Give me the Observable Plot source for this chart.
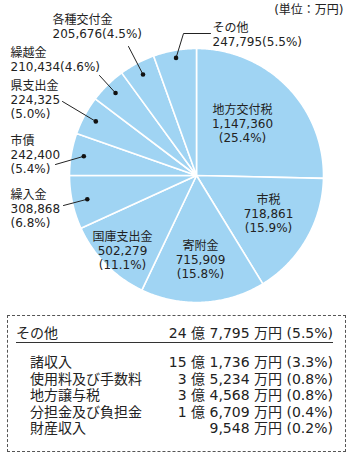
<!DOCTYPE html>
<html>
<head>
<meta charset="utf-8">
<script src="https://cdn.jsdelivr.net/npm/d3@7"></script>
<script src="https://cdn.jsdelivr.net/npm/@observablehq/plot@0.6"></script>
<style>
  html, body { margin: 0; padding: 0; background: #fff; }
  body { width: 352px; height: 456px; overflow: hidden; font-family: "DejaVu Sans", "Noto Sans CJK JP", sans-serif; color: #222; }
  #chart svg { display: block; }
  #box { box-sizing: border-box; margin: 5px 0 0 7px; width: 339px; height: 137px; border: 1px dashed #555; padding: 8px 12px 0 8px; font-size: 14px; }
  .row { display: flex; justify-content: space-between; white-space: nowrap; }
  .head { line-height: 18px; border-bottom: 1px solid #333; margin-bottom: 11px; }
  .sub { line-height: 16.5px; padding-left: 14px; }
</style>
</head>
<body>
<div id="chart"></div>
<div id="box"></div>
<script>
// ---- data ----
const names  = ["地方交付税", "市税", "寄附金", "国庫支出金", "繰入金", "市債", "県支出金", "繰越金", "各種交付金", "その他"];
const values = [1147360, 718861, 715909, 502279, 308868, 242400, 224325, 210434, 205676, 247795];
const shares = [25.4, 15.9, 15.8, 11.1, 6.8, 5.4, 5.0, 4.6, 4.5, 5.5];
const unitLabel = "(単位：万円)";

const otherTitle = "その他";
const otherTotal = "24 億 7,795 万円 (5.5%)";
const otherItems  = ["諸収入", "使用料及び手数料", "地方譲与税", "分担金及び負担金", "財産収入"];
const otherOku    = [15, 3, 3, 1, 0];
const otherMan    = [1736, 5234, 4568, 6709, 9548];
const otherShares = [3.3, 0.8, 0.8, 0.4, 0.2];

// ---- label layout (pixel positions, converted into data units below) ----
const CX = 196, CY = 175, R = 127;
const toX = px => (px - CX) / R, toY = py => (CY - py) / R;
const layout = [
  {mode: "in",  x: 242, y: 123, lines: 3},
  {mode: "in",  x: 268, y: 213, lines: 3},
  {mode: "in",  x: 200, y: 259, lines: 3},
  {mode: "in",  x: 122, y: 250, lines: 3},
  {mode: "out", x: 10,  y: 208, lines: 3, rf: 0.88, leader: [[63, 205]]},
  {mode: "out", x: 10,  y: 154, lines: 3, rf: 0.90, leader: [[55, 164]]},
  {mode: "out", x: 10,  y: 99,  lines: 3, rf: 0.90, leader: [[62, 101]]},
  {mode: "out", x: 10,  y: 59,  lines: 2, rf: 0.91, leader: [[99, 75]]},
  {mode: "out", x: 52,  y: 26,  lines: 2, rf: 0.90, leader: [[128, 46]]},
  {mode: "out", x: 212, y: 34,  lines: 2, rf: 0.94, leader: [[210, 33], [183, 33]]}
];

// ---- geometry from d3.pie ----
const arcs = d3.pie().sort(null).value(d => d)(values);
const piePts = [];
arcs.forEach((a, i) => {
  piePts.push({name: names[i], x: 0, y: 0});
  const n = Math.max(2, Math.ceil((a.endAngle - a.startAngle) / 0.01));
  for (let k = 0; k <= n; k++) {
    const t = a.startAngle + (a.endAngle - a.startAngle) * k / n;
    piePts.push({name: names[i], x: Math.sin(t), y: Math.cos(t)});
  }
});

const fmt = d3.format(",");
const labels = [], dots = [], leaders = [];
arcs.forEach((a, i) => {
  const L = layout[i];
  const num = fmt(values[i]), pct = `(${shares[i].toFixed(1)}%)`;
  const text = L.lines === 3 ? `${names[i]}\n${num}\n${pct}` : `${names[i]}\n${num}${pct}`;
  labels.push({text, x: toX(L.x), y: toY(L.y), anchor: L.mode === "in" ? "middle" : "start"});
  if (L.mode === "out") {
    const mid = (a.startAngle + a.endAngle) / 2;
    const dx = L.rf * Math.sin(mid), dy = L.rf * Math.cos(mid);
    dots.push({x: dx, y: dy});
    L.leader.forEach(p => leaders.push({name: names[i], x: toX(p[0]), y: toY(p[1])}));
    leaders.push({name: names[i], x: dx, y: dy});
  }
});

const font = `"DejaVu Sans", "Noto Sans CJK JP", sans-serif`;
const chart = Plot.plot({
  width: 352, height: 310, margin: 0,
  x: {domain: [-1, 1], range: [CX - R, CX + R], axis: null},
  y: {domain: [-1, 1], range: [CY + R, CY - R], axis: null},
  style: {fontFamily: font, background: "transparent", color: "#222"},
  marks: [
    Plot.line(piePts, {x: "x", y: "y", z: "name", fill: "#a0d4f3", stroke: "white", strokeWidth: 1.6, curve: "linear-closed", strokeLinejoin: "round"}),
    Plot.line(leaders, {x: "x", y: "y", z: "name", stroke: "#222", strokeWidth: 1}),
    Plot.dot(dots, {x: "x", y: "y", r: 2.3, fill: "#111", stroke: "none"}),
    Plot.text(labels.filter(d => d.anchor === "middle"), {x: "x", y: "y", text: "text", textAnchor: "middle", lineAnchor: "middle", lineHeight: 1.15, fontSize: 12, fill: "#222"}),
    Plot.text(labels.filter(d => d.anchor === "start"), {x: "x", y: "y", text: "text", textAnchor: "start", lineAnchor: "middle", lineHeight: 1.15, fontSize: 12, fill: "#222"}),
    Plot.text([unitLabel], {frameAnchor: "top-right", dx: -9, dy: 5, fontSize: 12, fill: "#222"})
  ]
});
document.getElementById("chart").appendChild(chart);

// ---- breakdown table ----
const box = document.getElementById("box");
const head = document.createElement("div");
head.className = "row head";
head.innerHTML = `<span>${otherTitle}</span><span>${otherTotal}</span>`;
box.appendChild(head);
otherItems.forEach((name, i) => {
  const r = document.createElement("div");
  r.className = "row sub";
  const amount = (otherOku[i] > 0 ? `${otherOku[i]} 億 ` : "") + `${fmt(otherMan[i])} 万円 (${otherShares[i].toFixed(1)}%)`;
  r.innerHTML = `<span>${name}</span><span>${amount}</span>`;
  box.appendChild(r);
});
</script>
</body>
</html>
